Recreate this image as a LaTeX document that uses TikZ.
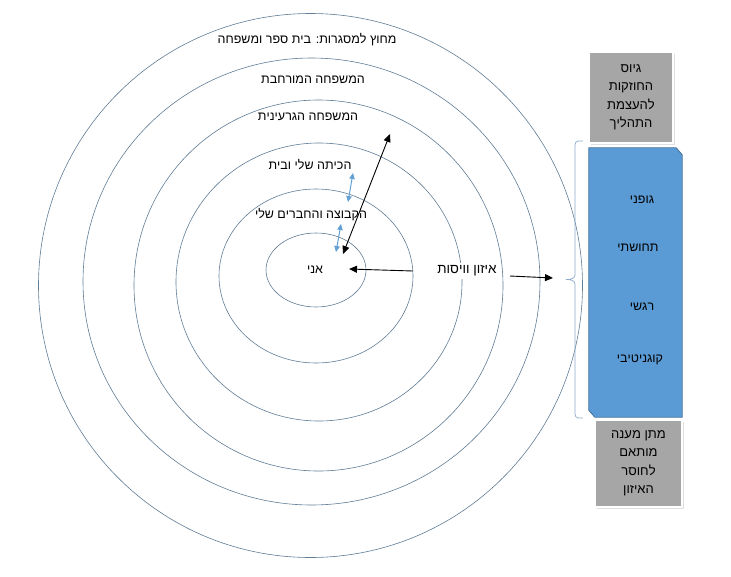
\documentclass[tikz,border=0pt]{standalone}
\usepackage{fontspec}
\setmainfont{Liberation Sans}
\TeXXeTstate=1
\usetikzlibrary{shapes,arrows.meta,positioning,shadows}
\definecolor{ringline}{RGB}{96,124,150}
\definecolor{boxblue}{RGB}{91,155,213}
\definecolor{boxblueline}{RGB}{65,113,156}
\definecolor{boxgray}{RGB}{166,166,166}
\definecolor{lightarrow}{RGB}{100,160,210}
\definecolor{bracecol}{RGB}{140,170,205}
\newcommand{\heb}[1]{\beginR #1\endR}

\begin{document}
\begin{tikzpicture}[x=1pt,y=-1pt,
  ring/.style={draw=ringline, line width=0.6pt},
  label/.style={font=\fontsize{12.5}{14}\selectfont, inner sep=1pt},
  grayboxstyle/.style={fill=boxgray, draw=white, line width=2.5pt,
    drop shadow={shadow xshift=1.5pt, shadow yshift=-1.5pt, fill=black!25},
    align=center, font=\fontsize{13}{18.5}\selectfont},
  blackarrow/.style={black, line width=0.9pt, -{Triangle[length=8pt,width=7pt]}},
  bluearrow/.style={lightarrow, line width=1pt,
    {Triangle[length=6pt,width=5.5pt]}-{Triangle[length=6pt,width=5.5pt]}}
  ]
  \useasboundingbox (0,0) rectangle (731,576);

  % rings, inner to outer
  \foreach \cx/\cy/\rx/\ry in {316/270/50/37, 316/276/97/87, 319/282/143/139,
      318.5/285.5/184.5/185.5, 311.5/281.5/228.5/223.5, 310.5/285.5/272/272}
    \draw[ring] (\cx,\cy) ellipse [x radius=\rx, y radius=\ry];

  \node[label] (outside) at (307,40) {\heb{מחוץ למסגרות: בית ספר ומשפחה}};
  \node[label] (extended) at (313,80) {\heb{המשפחה המורחבת}};
  \node[label] (nuclear) at (308,117) {\heb{המשפחה הגרעינית}};
  \node[label] (class) at (310,165) {\heb{הכיתה שלי ובית}};
  \node[label] (friends) at (311,215) {\heb{הקבוצה והחברים שלי}};
  \node[label] (me) at (315,270) {\heb{אני}};
  \node[label, font=\fontsize{13.5}{15}\selectfont, fill=white, inner sep=3pt] (balance) at (467,271) {\heb{איזון וויסות}};

  \coordinate (meright) at (349,269);
  \coordinate (balleft) at (413,271);
  \coordinate (balright) at (510,276);
  \coordinate (bracetip) at (553,278);
  \coordinate (diaglow) at (343,254);
  \coordinate (diaghigh) at (390,134);
  \coordinate (classlow) at (348,202);
  \coordinate (classhigh) at (353,173);
  \coordinate (friendslow) at (336,252);
  \coordinate (friendshigh) at (341,224);

  \draw[blackarrow] (balleft) -- (meright);
  \draw[blackarrow] (balright) -- (bracetip);
  \draw[blackarrow, {Triangle[length=8pt,width=7pt]}-{Triangle[length=8pt,width=7pt]}] (diaglow) -- (diaghigh);
  \draw[bluearrow] (classlow) -- (classhigh);
  \draw[bluearrow] (friendslow) -- (friendshigh);

  % brace
  \draw[bracecol, line width=0.7pt]
    (583,141) -- (578,141) to[out=180,in=90] (575,145) -- (575,275)
    to[out=-90,in=0] (566,279.5) to[out=0,in=90] (575,284) -- (575,414)
    to[out=-90,in=180] (578,418) -- (583,418);

  % boxes on the right
  \node[minimum width=93, minimum height=269, inner sep=0pt] (aspects) at (635.5,282.5) {};
  \draw[fill=boxblue, draw=boxblueline, line width=0.8pt]
    (aspects.north west) -- ([xshift=-6pt]aspects.north east) -- ([yshift=-7pt]aspects.north east)
    -- (aspects.south east) -- ([xshift=6pt]aspects.south west) -- ([yshift=7pt]aspects.south west) -- cycle;
  \node[label] (body) at (642,200) {\heb{גופני}};
  \node[label] (sense) at (638,248) {\heb{תחושתי}};
  \node[label] (emotion) at (642,307) {\heb{רגשי}};
  \node[label] (cognitive) at (640,360) {\heb{קוגניטיבי}};

  \node[grayboxstyle, minimum width=84, minimum height=91, inner sep=0pt] (strengths) at (631,97.5)
    {\heb{גיוס}\\\heb{החוזקות}\\\heb{להעצמת}\\\heb{התהליך}};
  \node[grayboxstyle, minimum width=87, minimum height=87, inner sep=0pt] (response) at (638.5,463.5)
    {\heb{מתן מענה}\\\heb{מותאם}\\\heb{לחוסר}\\\heb{האיזון}};
\end{tikzpicture}
\end{document}
